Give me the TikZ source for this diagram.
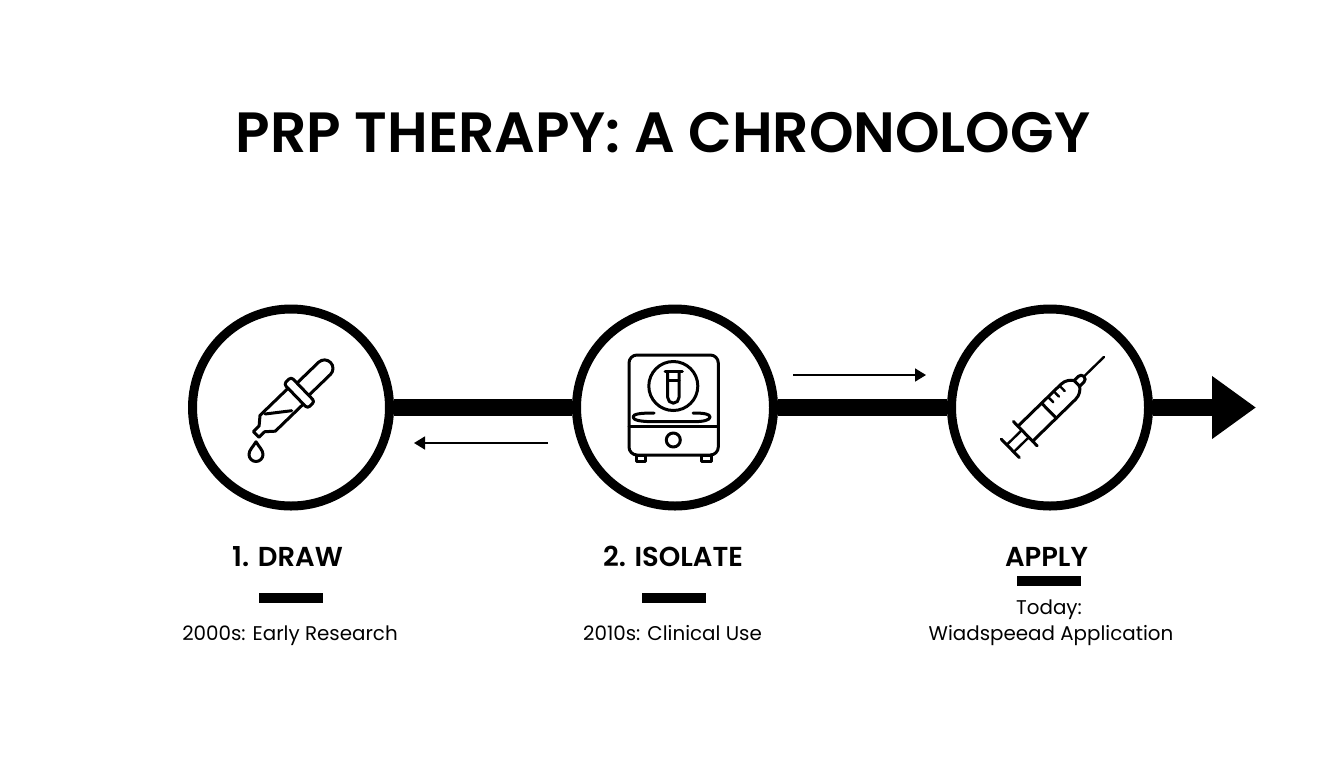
\documentclass[tikz,border=0pt]{standalone}
\usepackage{fontspec}
\setmainfont{Poppins}[BoldFont={Poppins SemiBold}]
\usetikzlibrary{arrows.meta}
\begin{document}
\begin{tikzpicture}[line cap=butt,line join=round,x=0.02cm,y=-0.02cm,
  ring/.style={draw,circle,line width=9*0.02cm,minimum size=197*0.02cm,inner sep=0pt},
  trunk/.style={line width=17*0.02cm},
  thinarrow/.style={line width=1.6*0.02cm,-{Triangle[length=0.22cm,width=0.26cm]}},
  icon/.style={line width=3*0.02cm,line cap=round},
  iconthin/.style={line width=2.4*0.02cm,line cap=round},
  rulebar/.style={fill=black,inner sep=0pt,minimum width=64*0.02cm,minimum height=10*0.02cm},
  headtext/.style={font=\fontsize{15.6}{18}\selectfont\bfseries,inner sep=0pt,anchor=base},
  subtext/.style={font=\fontsize{11.3}{15}\selectfont,inner sep=0pt,anchor=base}]
\useasboundingbox (0,0) rectangle (1344,768);
\node[font=\fontsize{32.3}{38}\selectfont\bfseries,inner sep=0pt,anchor=base] (title) at (663,152) {PRP THERAPY: A CHRONOLOGY};
\node[ring] (draw) at (291,407.5) {};
\node[ring] (isolate) at (675,407.5) {};
\node[ring] (apply) at (1050,407.5) {};
\coordinate (tipend) at (1256,407.5);
\draw[trunk] (draw) -- (isolate);
\draw[trunk] (isolate) -- (apply);
\draw[trunk,-{Triangle[length=0.88cm,width=1.2cm]}] (apply) -- (tipend);
\coordinate (upperstart) at (793,375);
\coordinate (upperend) at (926,375);
\coordinate (lowerstart) at (548,443);
\coordinate (lowerend) at (414,443);
\draw[thinarrow] (upperstart) -- (upperend);
\draw[thinarrow] (lowerstart) -- (lowerend);
% dropper
\begin{scope}[shift={(299.3,392.7)},rotate=44]
\draw[icon] (6,-8.5) -- (35,-8.5) arc (-90:90:8.5) -- (6,8.5);
\draw[icon,rounded corners=3*0.02cm] (-5,-17) rectangle (5,17);
\draw[icon] (-5,-11) -- (-44,-11) -- (-52,-4) -- (-60,-4) -- (-60,4) -- (-52,4) -- (-44,11) -- (-5,11);
\end{scope}
\draw[icon] (265,414) -- (291.7,410.7);
\draw[icon] (256,441.7) .. controls (253,447) and (249,450) .. (249,454.5) arc (180:0:7) .. controls (263,450) and (259,447) .. (256,441.7);
% centrifuge
\draw[icon,rounded corners=8*0.02cm] (629,355) rectangle (718.3,455);
\draw[icon] (673.3,386) circle (24.5);
\draw[icon] (665,371.7) -- (682.3,371.7);
\draw[icon] (667.7,371.7) -- (667.7,397.5) arc (180:0:5.65) -- (679,371.7);
\draw[icon] (667.7,380) -- (679,380);
\draw[icon] (629,426.7) -- (718.3,426.7);
\draw[icon] (654,413) .. controls (640,413) and (633,414) .. (633,417) .. controls (633,420) and (640,421.7) .. (654,421.7) -- (693,421.7) .. controls (704,421.7) and (710,420) .. (710,417) .. controls (710,414) and (704,413) .. (693,413);
\draw[icon] (673.3,440) circle (7);
\draw[icon] (636,455) rectangle (645.7,461);
\draw[icon] (701,455) rectangle (711,461);
% syringe
\begin{scope}[shift={(1025.3,433.7)},rotate=44.3]
\draw[icon] (0,-17) -- (0,17);
\draw[icon] (-21,-13) -- (-21,13);
\draw[iconthin] (-21,-5) -- (0,-5);
\draw[iconthin] (-21,5) -- (0,5);
\draw[icon] (0,-10.5) -- (60,-10.5) .. controls (66,-10.5) and (70,-7) .. (72,-4);
\draw[icon] (0,10.5) -- (60,10.5) .. controls (66,10.5) and (70,7) .. (72,4);
\draw[icon] (72,-4) -- (78,-4) arc (-90:90:4) -- (72,4) -- cycle;
\draw[iconthin] (82,0) -- (110,0);
\draw[icon] (33,-10.5) -- (33,10.5);
\draw[iconthin] (42,-10.5) -- (42,-3);
\draw[iconthin] (50,-10.5) -- (50,-3);
\draw[iconthin] (58,-10.5) -- (58,-3);
\end{scope}
% labels
\node[headtext] (drawhead) at (287.5,566.7) {1. DRAW};
\node[rulebar] (drawrule) at (291,598) {};
\node[subtext] (drawsub) at (290,640) {2000s: Early Research};
\node[headtext] (isolatehead) at (673,566.7) {2. ISOLATE};
\node[rulebar] (isolaterule) at (673.5,598) {};
\node[subtext] (isolatesub) at (672.5,640) {2010s: Clinical Use};
\node[headtext] (applyhead) at (1046.5,566.7) {APPLY};
\node[rulebar] (applyrule) at (1049,580.5) {};
\node[subtext] (applytoday) at (1049,614) {Today:};
\node[subtext] (applysub) at (1051,640) {Wiadspeead Application};
\end{tikzpicture}
\end{document}
